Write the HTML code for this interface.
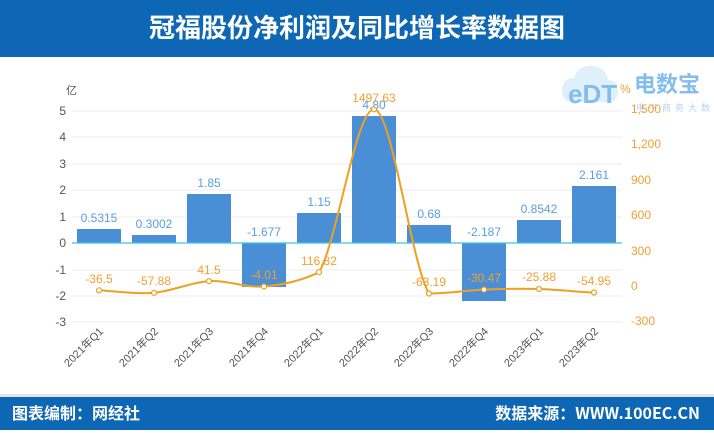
<!DOCTYPE html>
<html><head><meta charset="utf-8"><style>
body{margin:0;width:714px;height:430px;overflow:hidden;background:#fff;font-family:"Liberation Sans","Noto Sans CJK SC",sans-serif}
</style></head><body>
<svg width="714" height="430" xmlns="http://www.w3.org/2000/svg" font-family="Liberation Sans, Noto Sans CJK SC, sans-serif">
<rect x="0" y="0" width="714" height="57" fill="#0d67b5"/>
<text x="357" y="37" text-anchor="middle" font-size="26" font-weight="bold" fill="#fff" font-family="Noto Sans CJK SC, sans-serif">冠福股份净利润及同比增长率数据图</text>
<rect x="0" y="394" width="714" height="3" fill="#dfe6ee"/>
<rect x="0" y="397" width="714" height="33" fill="#0d67b5"/>
<text x="12" y="419" font-size="16" font-weight="bold" fill="#fff" font-family="Noto Sans CJK SC, sans-serif">图表编制：网经社</text>
<text x="700" y="419" text-anchor="end" font-size="16" font-weight="bold" fill="#fff" font-family="Noto Sans CJK SC, sans-serif">数据来源：WWW.100EC.CN</text>
<!-- logo -->
<g opacity="0.75">
<path d="M572 102 q-10 0 -10 -12 q0 -12 12 -12 q4 -14 20 -12 q12 2 14 14 q10 0 10 11 q0 11 -10 11 z" fill="#d6ebfa"/>
<text x="568" y="103" font-size="26" font-weight="bold" fill="#5aa8e6">eDT</text>
<text x="634" y="92" font-size="22" font-weight="bold" fill="#5aa8e6" font-family="Noto Sans CJK SC, sans-serif">电数宝</text>
<text x="636" y="111" font-size="9" fill="#9cc6ec" font-family="Noto Sans CJK SC, sans-serif" letter-spacing="4">电子商务大数据库</text>
</g>
<!-- grid -->
<g stroke="#ececec" stroke-width="1">
<line x1="72" x2="622" y1="111" y2="111"/><line x1="72" x2="622" y1="137" y2="137"/><line x1="72" x2="622" y1="164" y2="164"/><line x1="72" x2="622" y1="190" y2="190"/><line x1="72" x2="622" y1="217" y2="217"/><line x1="72" x2="622" y1="270" y2="270"/><line x1="72" x2="622" y1="296" y2="296"/><line x1="72" x2="622" y1="322" y2="322"/>
</g>
<g font-size="12" fill="#555" text-anchor="end">
<text x="66" y="115">5</text><text x="66" y="141">4</text><text x="66" y="168">3</text><text x="66" y="194">2</text><text x="66" y="221">1</text><text x="66" y="247">0</text><text x="66" y="274">-1</text><text x="66" y="300">-2</text><text x="66" y="326">-3</text>
</g>
<text x="66" y="94" font-size="11" fill="#555" font-family="Noto Sans CJK SC, sans-serif">亿</text>
<g font-size="12" fill="#f0a030">
<text x="620" y="93">%</text>
<text x="631" y="113">1,500</text><text x="631" y="148">1,200</text><text x="631" y="184">900</text><text x="631" y="219">600</text><text x="631" y="255">300</text><text x="631" y="290">0</text><text x="631" y="325">-300</text>
</g>
<!-- bars -->
<g fill="#4a8fd6">
<rect x="77" y="229" width="44" height="14"/>
<rect x="132" y="235" width="44" height="8"/>
<rect x="187" y="194" width="44" height="49"/>
<rect x="242" y="243" width="44" height="44"/>
<rect x="297" y="213" width="44" height="30"/>
<rect x="352" y="116" width="44" height="127"/>
<rect x="407" y="225" width="44" height="18"/>
<rect x="462" y="243" width="44" height="58"/>
<rect x="517" y="220" width="44" height="23"/>
<rect x="572" y="186" width="44" height="57"/>
</g>
<line x1="72" x2="622" y1="243" y2="243" stroke="#3cc4e6" stroke-width="1.2"/>
<g font-size="12" fill="#5a9ee0" text-anchor="middle">
<text x="99" y="222">0.5315</text><text x="154" y="228">0.3002</text><text x="209" y="187">1.85</text><text x="264" y="236">-1.677</text><text x="319" y="206">1.15</text><text x="374" y="109">4.80</text><text x="429" y="218">0.68</text><text x="484" y="236">-2.187</text><text x="539" y="213">0.8542</text><text x="594" y="179">2.161</text>
</g>
<path d="M99 290.3 C108 290.7 136 294.3 154 292.8 C172 291.3 191 282.2 209 281.1 C227 280 246 288 264 286.5 C282 285 301 281 319 272.2 C337 242.7 356 109.3 374 109.3 C392 109.3 411 263.5 429 293.5 C447 293.5 466 290.4 484 289.6 C502 288.9 521 288.5 539 289 C557 289.5 585 292.5 594 292.5" fill="none" stroke="#f0a020" stroke-width="2"/>
<g fill="#fff" stroke="#f0a020" stroke-width="1.2">
<circle cx="99" cy="290.3" r="2.5"/><circle cx="154" cy="292.8" r="2.5"/><circle cx="209" cy="281.1" r="2.5"/><circle cx="264" cy="286.5" r="2.5"/><circle cx="319" cy="272.2" r="2.5"/><circle cx="374" cy="109.3" r="2.5"/><circle cx="429" cy="293.5" r="2.5"/><circle cx="484" cy="289.6" r="2.5"/><circle cx="539" cy="289" r="2.5"/><circle cx="594" cy="292.5" r="2.5"/>
</g>
<g font-size="12" fill="#f0a030" text-anchor="middle">
<text x="99" y="283">-36.5</text><text x="154" y="285">-57.88</text><text x="209" y="274">41.5</text><text x="264" y="279">-4.01</text><text x="319" y="265">116.82</text><text x="374" y="102">1497.63</text><text x="429" y="286">-63.19</text><text x="484" y="282">-30.47</text><text x="539" y="281">-25.88</text><text x="594" y="285">-54.95</text>
</g>
<g font-size="11" fill="#555" text-anchor="end" font-family="Liberation Sans, Noto Sans CJK SC, sans-serif">
<text transform="translate(104,332) rotate(-45)">2021年Q1</text>
<text transform="translate(159,332) rotate(-45)">2021年Q2</text>
<text transform="translate(214,332) rotate(-45)">2021年Q3</text>
<text transform="translate(269,332) rotate(-45)">2021年Q4</text>
<text transform="translate(324,332) rotate(-45)">2022年Q1</text>
<text transform="translate(379,332) rotate(-45)">2022年Q2</text>
<text transform="translate(434,332) rotate(-45)">2022年Q3</text>
<text transform="translate(489,332) rotate(-45)">2022年Q4</text>
<text transform="translate(544,332) rotate(-45)">2023年Q1</text>
<text transform="translate(599,332) rotate(-45)">2023年Q2</text>
</g>
</svg>
</body></html>
